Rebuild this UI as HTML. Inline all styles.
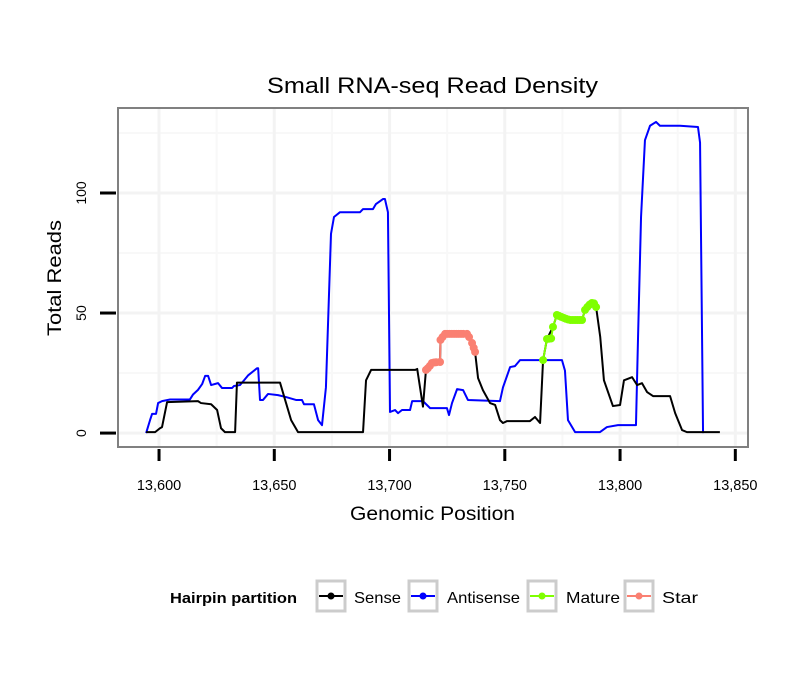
<!DOCTYPE html>
<html><head><meta charset="utf-8"><style>
body{margin:0;background:#fff;}
svg text{font-family:"Liberation Sans",sans-serif;}
</style></head><body>
<svg id="chart" width="810" height="690">
<rect width="810" height="690" fill="#fff"/>
<text x="267" y="93" textLength="331" lengthAdjust="spacingAndGlyphs" font-size="22">Small RNA-seq Read Density</text>
<g id="grid"></g>
<g id="series"></g>
<rect x="118" y="108" width="630" height="339" fill="none" stroke="#808080" stroke-width="2"/>
<g id="axes"></g>
<text x="350" y="520" textLength="165" lengthAdjust="spacingAndGlyphs" font-size="19">Genomic Position</text>
<text x="0" y="0" transform="translate(61,336) rotate(-90)" textLength="116" lengthAdjust="spacingAndGlyphs" font-size="19">Total Reads</text>
<g>
<text x="170" y="603" textLength="127" lengthAdjust="spacingAndGlyphs" font-size="15" font-weight="bold">Hairpin partition</text>
<g><rect x="317" y="581" width="28" height="30" fill="#fff" stroke="#ccc" stroke-width="3"/><line x1="319" x2="343" y1="596" y2="596" stroke="#000" stroke-width="2"/><circle cx="331" cy="596" r="3.5" fill="#000"/><text x="354" y="603" textLength="47" lengthAdjust="spacingAndGlyphs" font-size="16">Sense</text></g>
<g><rect x="409" y="581" width="28" height="30" fill="#fff" stroke="#ccc" stroke-width="3"/><line x1="411" x2="435" y1="596" y2="596" stroke="#0000ff" stroke-width="2"/><circle cx="423" cy="596" r="3.5" fill="#0000ff"/><text x="447" y="603" textLength="73" lengthAdjust="spacingAndGlyphs" font-size="16">Antisense</text></g>
<g><rect x="528" y="581" width="28" height="30" fill="#fff" stroke="#ccc" stroke-width="3"/><line x1="530" x2="554" y1="596" y2="596" stroke="#7fff00" stroke-width="2"/><circle cx="542" cy="596" r="3.5" fill="#7fff00"/><text x="566" y="603" textLength="54" lengthAdjust="spacingAndGlyphs" font-size="16">Mature</text></g>
<g><rect x="625" y="581" width="28" height="30" fill="#fff" stroke="#ccc" stroke-width="3"/><line x1="627" x2="651" y1="596" y2="596" stroke="#fa8072" stroke-width="2"/><circle cx="639" cy="596" r="3.5" fill="#fa8072"/><text x="662" y="603" textLength="36" lengthAdjust="spacingAndGlyphs" font-size="16">Star</text></g>
</g>
</svg>
<script>
const xTicks=[13600,13650,13700,13750,13800,13850];
const xTickLabels=["13,600","13,650","13,700","13,750","13,800","13,850"];
const yTicks=[0,50,100];
const yTickLabels=["0","50","100"];
const antisenseX=[13594.4,13596.1,13597,13598.7,13599.6,13601.3,13604.8,13613.4,13614.7,13616.9,13618.7,13620,13621.3,13622.6,13625.6,13627.3,13631.7,13632.5,13635.1,13636.9,13638.6,13642.5,13643,13643.8,13645.1,13647.3,13651.6,13655.1,13659.4,13662,13662.9,13667.2,13669,13670.7,13672.4,13674.6,13675.9,13678.5,13687.2,13688.5,13692.8,13694.1,13697.2,13698,13699.3,13700.2,13702.4,13703.7,13705.4,13708.9,13709.8,13714.5,13717.6,13724.9,13725.8,13727.1,13729.3,13731.9,13734,13747.9,13749.2,13752.3,13754.4,13756.6,13774.8,13776.1,13777.4,13780.5,13791.3,13794.3,13799.1,13806.9,13807.8,13809.1,13810.8,13813,13815.6,13817.3,13826,13833.8,13834.7,13836];
const antisenseY=[0,5.4,8,8,12.5,13.3,14,14,16,18,20.4,23.8,23.8,20,20.8,18.8,18.8,19.6,20,22,24,27,27,13.8,13.8,16.3,15.8,15,13.8,13.8,12,12,5.4,3.3,19,83,90,92,92,93.3,93.3,95.4,97.5,97.5,92,8.8,9.6,8.3,9.6,9.6,13.3,13.3,10.4,10.4,7.5,12.5,18.3,17.9,13.8,13.3,19,27.5,27.9,30.4,30.4,26,5.4,0.4,0.4,2.5,3.3,3.3,40,90,122,128,129.6,128,128,127.5,121,0];
const senseX=[13594.4,13598.3,13600.4,13601.3,13603.5,13616.9,13618.2,13622.6,13625.2,13626.9,13628.6,13633,13633.8,13652.5,13654.7,13657.3,13660.3,13688.5,13689.8,13692,13711.1,13712,13714.5,13715.8,13718.4,13721.9,13722.1,13724.1,13733.6,13735.8,13737.1,13738.4,13740.5,13743.6,13745.8,13747.9,13749.2,13751,13760.9,13763.1,13765.3,13766.6,13768.3,13770.9,13772.6,13783.5,13784.8,13787.8,13789.6,13791.4,13793,13796.9,13800,13801.7,13805.2,13807.4,13809.5,13811.7,13814.3,13821.7,13823.9,13826.9,13829,13843.3];
const senseY=[0.4,0.4,2,2.5,12.9,13.3,12.5,12,9.6,2,0.4,0.4,21,21,13.8,5.4,0.4,0.4,22,26.3,26.3,26.7,11,26.3,29.2,29.6,38.8,41.3,41.3,37.5,33.8,22.9,17.9,12.5,11.7,5.4,4.2,5,5,6.7,4.2,30.4,39.2,44.2,49.2,47.1,51.3,54.2,52.5,40,22,11.25,11.7,22,23.3,20,20.8,17.1,15.4,15.4,8.3,1.25,0.4,0.4];
const starX=[13715.8,13716.6,13717.5,13718.4,13719.3,13720.2,13721.9,13722.1,13723,13724.1,13725,13726,13727,13728,13729,13730,13731,13732,13733.6,13734.5,13735.8,13736.5,13737.1];
const starY=[26.3,27,28,29.2,29.4,29.5,29.6,38.8,40,41.3,41.3,41.3,41.3,41.3,41.3,41.3,41.3,41.3,41.3,40,37.5,35.5,33.8];
const matureX=[13766.6,13768.3,13769.2,13770.1,13770.9,13772.6,13773.5,13774.5,13775.5,13776.5,13777.5,13778.5,13779.5,13780.5,13781.5,13782.5,13783.5,13784.8,13785.8,13786.8,13787.8,13788.7,13789.6];
const matureY=[30.4,39.2,39.3,39.4,44.2,49.2,48.8,48.4,48,47.6,47.3,47.1,47.1,47.1,47.1,47.1,47.1,51.3,52.5,53.5,54.2,54,52.5];

const NS="http://www.w3.org/2000/svg";
const X0=118,X1=748,Y0=108,Y1=447;
const xMin=13582.2,xMax=13855.5,yMin=-5.8,yMax=135.4;
function sx(v){return X0+(v-xMin)/(xMax-xMin)*(X1-X0);}
function sy(v){return Y1-(v-yMin)/(yMax-yMin)*(Y1-Y0);}
function mk(tag,attrs,parent){const e=document.createElementNS(NS,tag);for(const k in attrs)e.setAttribute(k,attrs[k]);parent.appendChild(e);return e;}
const grid=document.getElementById('grid'),axes=document.getElementById('axes'),ser=document.getElementById('series');
for(let i=0;i<xTicks.length;i++){
  const m=xTicks[i]-25;
  if(m>xMin){const g=mk('line',{x1:sx(m),x2:sx(m),y1:Y0,y2:Y1,stroke:'#f8f8f8','stroke-width':2},grid);
  
  }
}
for(let i=0;i<yTicks.length;i++){
  const m=yTicks[i]+25;
  const g=mk('line',{x1:X0,x2:X1,y1:sy(m),y2:sy(m),stroke:'#f8f8f8','stroke-width':2},grid);
  
  
}
for(let i=0;i<xTicks.length;i++){
  const x=sx(xTicks[i]);
  if(x<X1){const g=mk('line',{x1:x,x2:x,y1:Y0,y2:Y1,stroke:'#f3f3f3','stroke-width':3},grid);
  
  }
  const t=mk('line',{x1:x,x2:x,y1:449,y2:461,stroke:'#000','stroke-width':3},axes);
  
  
  const l=mk('text',{x:x,y:490,'text-anchor':'middle','font-size':14.5},axes);
  l.textContent=xTickLabels[i];
  
  
}
for(let i=0;i<yTicks.length;i++){
  const y=sy(yTicks[i]);
  const g=mk('line',{x1:X0,x2:X1,y1:y,y2:y,stroke:'#f3f3f3','stroke-width':3},grid);
  
  
  const t=mk('line',{x1:100,x2:116,y1:y,y2:y,stroke:'#000','stroke-width':3},axes);
  
  
  const l=mk('text',{x:0,y:0,transform:`translate(86,${y}) rotate(-90)`,'text-anchor':'middle','font-size':14},axes);
  l.textContent=yTickLabels[i];
  
  
}
function line(xs,ys,color,name){
  const p=mk('polyline',{points:xs.map((v,i)=>sx(v)+','+sy(ys[i])).join(' '),fill:'none',stroke:color,'stroke-width':2,'stroke-linejoin':'round'},ser);
  
  
}
function dots(xs,ys,color,name){
  for(let i=0;i<xs.length;i++){
    const c=mk('circle',{cx:sx(xs[i]),cy:sy(ys[i]),r:4,fill:color},ser);
    
    
  }
}
line(antisenseX,antisenseY,'#0000ff','antisense-line');
line(senseX,senseY,'#000000','sense-line');
line(starX,starY,'#fa8072','star-line');
dots(starX,starY,'#fa8072','star-point');
line(matureX,matureY,'#7fff00','mature-line');
dots(matureX,matureY,'#7fff00','mature-point');
</script>
</body></html>
